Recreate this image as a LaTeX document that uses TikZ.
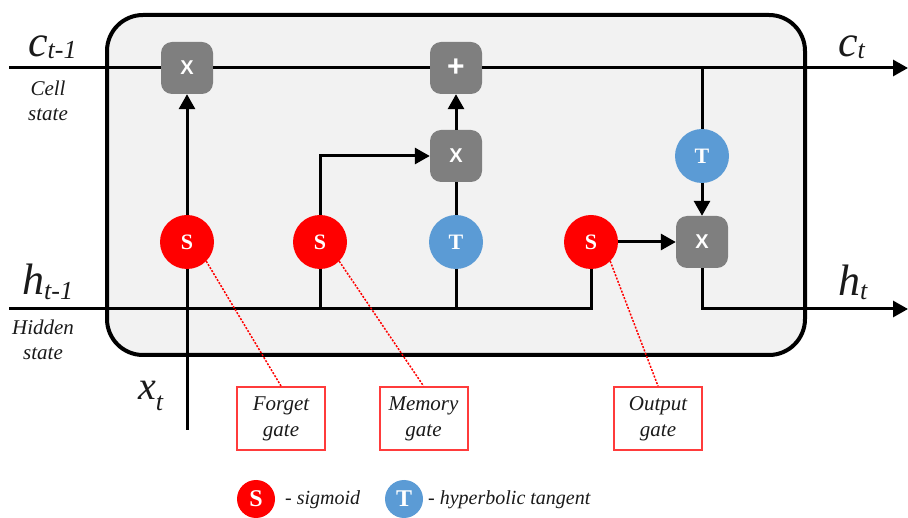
\documentclass[tikz,border=0pt]{standalone}
\usepackage{fontspec}
\setmainfont{Liberation Serif}
\newfontfamily\arialfont{Liberation Sans}
\usetikzlibrary{arrows.meta}
\definecolor{sigred}{HTML}{FF0000}
\definecolor{tanblue}{HTML}{5B9BD5}
\definecolor{opgray}{HTML}{7F7F7F}
\definecolor{cellbg}{HTML}{F2F2F2}
\definecolor{gatered}{HTML}{FF3B3B}
\definecolor{labeltext}{HTML}{1A1A1A}
\newcommand{\bigit}[1]{{\fontsize{44}{44}\selectfont\itshape #1}}
\newcommand{\subit}[2]{\raisebox{-#1}{\fontsize{26}{26}\selectfont\itshape #2}}
\begin{document}
\begin{tikzpicture}[x=1pt,y=-1pt,
 wire/.style={line width=3pt},
 arr/.style={wire,-{Triangle[length=15pt,width=16pt]}},
 opbox/.style={rectangle,rounded corners=11pt,fill=opgray,minimum size=52pt,inner sep=0pt,text=white,font=\arialfont\bfseries\fontsize{20}{20}\selectfont},
 sig/.style={circle,fill=sigred,minimum size=54pt,inner sep=0pt,text=white,font=\bfseries\fontsize{22}{22}\selectfont},
 tanh/.style={sig,fill=tanblue},
 gatebox/.style={draw=gatered,line width=2pt,minimum width=88pt,minimum height=63pt,inner sep=0pt,align=center,text=labeltext,font=\itshape\fontsize{21}{26}\selectfont},
 dots/.style={draw=sigred,line width=1.5pt,dash pattern=on 2pt off 1.5pt},
 sidelbl/.style={align=center,inner sep=0pt,text=labeltext,font=\itshape\fontsize{21}{25}\selectfont},
 mathlbl/.style={anchor=base west,inner sep=0pt,text=labeltext},
 legtext/.style={anchor=west,inner sep=0pt,text=labeltext,font=\itshape\fontsize{20}{20}\selectfont}
 ]
\useasboundingbox (0,0) rectangle (908,518);
\draw[line width=4pt, fill=cellbg, rounded corners=36pt] (107,15) rectangle (805,355);

% line ends
\coordinate (cin) at (9,68);
\coordinate (cout) at (908,68);
\coordinate (hin) at (9,309);
\coordinate (hout) at (908,309);
\coordinate (xin) at (187,430);

% operations
\node[opbox] (fX) at (187,68) {X};
\node[opbox] (plus) at (456,68) {\fontsize{30}{30}\selectfont +};
\node[opbox] (mX) at (456,156) {X};
\node[opbox] (oX) at (702,242) {X};
\node[sig] (fS) at (187,242) {S};
\node[sig] (mS) at (320,242) {S};
\node[tanh] (mT) at (456,242) {T};
\node[sig] (oS) at (591,242) {S};
\node[tanh] (oT) at (702,156) {T};

% wires
\draw[wire] (cin) -- (fX);
\draw[wire] (fX) -- (plus);
\draw[arr] (plus) -- (cout);
\draw[wire] (oT |- cout) -- (oT);
\draw[arr] (oT) -- (oX);
\draw[arr] (oS) -- (oX);
\draw[arr] (oX.south) |- (hout);
\draw[wire] (hin) -| (oS.south);
\draw[wire] (mS |- hin) -- (mS);
\draw[wire] (mT |- hin) -- (mT);
\draw[wire] (xin) -- (fS);
\draw[arr] (fS) -- (fX);
\draw[arr] (mS) |- (mX);
\draw[wire] (mT) -- (mX);
\draw[arr] (mX) -- (plus);

% side labels
\node[mathlbl] (lc) at (28,57) {\bigit{c}\subit{2pt}{t-1}};
\node[mathlbl] (lh) at (22,295) {\bigit{h}\subit{5pt}{t-1}};
\node[mathlbl] (lct) at (838,57) {\bigit{c}\subit{2pt}{t}};
\node[mathlbl] (lht) at (838,296) {\bigit{h}\subit{4pt}{t}};
\node[mathlbl] (lx) at (138,400) {{\fontsize{40}{40}\selectfont\itshape x}\subit{11pt}{t}};
\node[sidelbl] (cs) at (48,101) {Cell\\state};
\node[sidelbl] (hs) at (43,340) {Hidden\\state};

% gate labels
\node[gatebox] (fG) at (281,418.5) {Forget\\gate};
\node[gatebox] (mG) at (423.5,418.5) {Memory\\gate};
\node[gatebox] (oG) at (658,418.5) {Output\\gate};
\draw[dots] (fS.-45) -- (fG.north);
\draw[dots] (mS.-45) -- (mG.north);
\draw[dots] (oS.-45) -- (oG.north);

% legend
\node[sig,minimum size=38pt,font=\bfseries\fontsize{24}{24}\selectfont] (lS) at (256,499) {S};
\node[legtext] (lSt) at (285,500) {- sigmoid};
\node[tanh,minimum size=38pt,font=\bfseries\fontsize{24}{24}\selectfont] (lT) at (404,499) {T};
\node[legtext] (lTt) at (428,500) {- hyperbolic tangent};
\end{tikzpicture}
\end{document}
